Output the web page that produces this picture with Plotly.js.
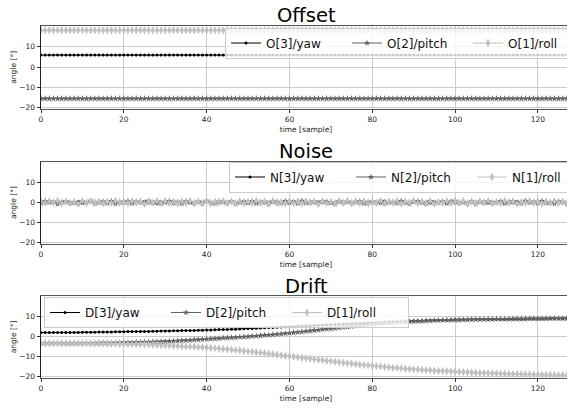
<!DOCTYPE html>
<html>
<head>
<meta charset="utf-8">
<script src="https://cdn.plot.ly/plotly-3.0.1.min.js"></script>
<style>html,body{margin:0;padding:0;overflow:hidden;background:#fff;}#chart{width:571px;height:408px;}</style>
</head>
<body>
<div id="chart"></div>
<script>
// sample index 0..127
const samples = [
0,1,2,3,4,5,6,7,8,9,10,11,12,13,14,15,16,17,18,19,
20,21,22,23,24,25,26,27,28,29,30,31,32,33,34,35,36,37,38,39,
40,41,42,43,44,45,46,47,48,49,50,51,52,53,54,55,56,57,58,59,
60,61,62,63,64,65,66,67,68,69,70,71,72,73,74,75,76,77,78,79,
80,81,82,83,84,85,86,87,88,89,90,91,92,93,94,95,96,97,98,99,
100,101,102,103,104,105,106,107,108,109,110,111,112,113,114,115,116,117,118,119,
120,121,122,123,124,125,126,127];

// ---- Offset ----
const offsetYaw = [
5.9,5.9,5.9,5.9,5.9,5.9,5.9,5.9,5.9,5.9,5.9,5.9,5.9,5.9,5.9,5.9,5.9,5.9,5.9,5.9,
5.9,5.9,5.9,5.9,5.9,5.9,5.9,5.9,5.9,5.9,5.9,5.9,5.9,5.9,5.9,5.9,5.9,5.9,5.9,5.9,
5.9,5.9,5.9,5.9,5.9,5.9,5.9,5.9,5.9,5.9,5.9,5.9,5.9,5.9,5.9,5.9,5.9,5.9,5.9,5.9,
5.9,5.9,5.9,5.9,5.9,5.9,5.9,5.9,5.9,5.9,5.9,5.9,5.9,5.9,5.9,5.9,5.9,5.9,5.9,5.9,
5.9,5.9,5.9,5.9,5.9,5.9,5.9,5.9,5.9,5.9,5.9,5.9,5.9,5.9,5.9,5.9,5.9,5.9,5.9,5.9,
5.9,5.9,5.9,5.9,5.9,5.9,5.9,5.9,5.9,5.9,5.9,5.9,5.9,5.9,5.9,5.9,5.9,5.9,5.9,5.9,
5.9,5.9,5.9,5.9,5.9,5.9,5.9,5.9];
const offsetPitch = [
-15.6,-15.6,-15.6,-15.6,-15.6,-15.6,-15.6,-15.6,-15.6,-15.6,-15.6,-15.6,-15.6,-15.6,-15.6,-15.6,-15.6,-15.6,-15.6,-15.6,
-15.6,-15.6,-15.6,-15.6,-15.6,-15.6,-15.6,-15.6,-15.6,-15.6,-15.6,-15.6,-15.6,-15.6,-15.6,-15.6,-15.6,-15.6,-15.6,-15.6,
-15.6,-15.6,-15.6,-15.6,-15.6,-15.6,-15.6,-15.6,-15.6,-15.6,-15.6,-15.6,-15.6,-15.6,-15.6,-15.6,-15.6,-15.6,-15.6,-15.6,
-15.6,-15.6,-15.6,-15.6,-15.6,-15.6,-15.6,-15.6,-15.6,-15.6,-15.6,-15.6,-15.6,-15.6,-15.6,-15.6,-15.6,-15.6,-15.6,-15.6,
-15.6,-15.6,-15.6,-15.6,-15.6,-15.6,-15.6,-15.6,-15.6,-15.6,-15.6,-15.6,-15.6,-15.6,-15.6,-15.6,-15.6,-15.6,-15.6,-15.6,
-15.6,-15.6,-15.6,-15.6,-15.6,-15.6,-15.6,-15.6,-15.6,-15.6,-15.6,-15.6,-15.6,-15.6,-15.6,-15.6,-15.6,-15.6,-15.6,-15.6,
-15.6,-15.6,-15.6,-15.6,-15.6,-15.6,-15.6,-15.6];
const offsetRoll = [
18.2,18.2,18.2,18.2,18.2,18.2,18.2,18.2,18.2,18.2,18.2,18.2,18.2,18.2,18.2,18.2,18.2,18.2,18.2,18.2,
18.2,18.2,18.2,18.2,18.2,18.2,18.2,18.2,18.2,18.2,18.2,18.2,18.2,18.2,18.2,18.2,18.2,18.2,18.2,18.2,
18.2,18.2,18.2,18.2,18.2,18.2,18.2,18.2,18.2,18.2,18.2,18.2,18.2,18.2,18.2,18.2,18.2,18.2,18.2,18.2,
18.2,18.2,18.2,18.2,18.2,18.2,18.2,18.2,18.2,18.2,18.2,18.2,18.2,18.2,18.2,18.2,18.2,18.2,18.2,18.2,
18.2,18.2,18.2,18.2,18.2,18.2,18.2,18.2,18.2,18.2,18.2,18.2,18.2,18.2,18.2,18.2,18.2,18.2,18.2,18.2,
18.2,18.2,18.2,18.2,18.2,18.2,18.2,18.2,18.2,18.2,18.2,18.2,18.2,18.2,18.2,18.2,18.2,18.2,18.2,18.2,
18.2,18.2,18.2,18.2,18.2,18.2,18.2,18.2];

// ---- Noise ----
const noiseYaw = [
0.3,-0.5,0.6,-0.2,0.1,-0.7,0.4,0.2,-0.3,0.5,
-0.6,0.1,0.3,-0.4,0.7,-0.1,-0.5,0.2,0.4,-0.3,
0.6,-0.6,0.0,0.3,-0.2,0.5,-0.4,0.1,-0.7,0.4,
0.2,-0.3,0.6,-0.5,0.1,0.3,-0.2,-0.6,0.5,0.0,
0.4,-0.3,0.2,-0.5,0.6,-0.1,0.3,-0.4,0.1,0.5,
-0.6,0.2,-0.2,0.4,-0.3,0.0,0.6,-0.5,0.3,-0.1,
-0.4,0.5,0.2,-0.6,0.1,0.4,-0.3,0.3,-0.2,0.6,
-0.5,0.0,0.2,-0.4,0.5,-0.1,0.3,-0.6,0.4,0.1,
-0.3,0.2,-0.5,0.6,-0.2,0.0,0.4,-0.4,0.3,-0.6,
0.5,0.1,-0.2,0.3,-0.5,0.4,-0.1,0.2,-0.3,0.6,
-0.4,0.0,0.5,-0.2,0.1,-0.6,0.3,0.4,-0.5,0.2,
-0.1,0.6,-0.3,0.1,-0.4,0.5,0.0,-0.2,0.3,-0.6,
0.4,-0.1,0.2,-0.5,0.6,-0.3,0.1,-0.2];
const noisePitch = [
-0.4,0.6,-0.1,0.3,-0.8,0.2,0.5,-0.3,0.1,-0.6,
0.4,-0.2,0.7,-0.5,0.0,0.3,-0.4,0.6,-0.7,0.2,
-0.1,0.5,-0.6,0.3,0.1,-0.3,0.7,-0.2,0.4,-0.5,
0.0,0.6,-0.4,0.2,-0.7,0.5,0.1,-0.3,0.3,-0.6,
0.7,-0.1,-0.5,0.4,0.2,-0.4,0.6,-0.7,0.0,0.3,
-0.2,0.5,-0.6,0.1,0.4,-0.8,0.3,0.2,-0.4,0.6,
-0.1,0.3,-0.5,0.7,-0.3,0.0,0.4,-0.6,0.5,-0.2,
0.1,-0.7,0.6,-0.1,0.3,-0.4,0.2,0.5,-0.5,0.0,
0.4,-0.3,0.7,-0.6,0.1,0.2,-0.4,0.6,-0.2,-0.7,
0.3,0.5,-0.1,-0.5,0.6,-0.3,0.0,0.4,-0.6,0.2,
0.7,-0.2,0.1,-0.4,0.5,-0.7,0.3,-0.1,0.6,-0.3,
0.0,0.4,-0.6,0.2,0.5,-0.2,-0.5,0.7,-0.1,0.3,
-0.4,0.6,-0.3,0.1,-0.7,0.4,0.2,-0.5];
const noiseRoll = [
0.5,-0.3,0.6,-0.2,0.7,-0.5,0.3,-0.4,0.2,-0.6,
0.5,-0.3,0.6,-0.1,0.4,-0.6,0.3,-0.4,0.7,-0.3,
0.1,-0.5,0.6,-0.2,0.4,-0.7,0.3,-0.2,0.5,-0.4,
0.6,-0.3,0.2,-0.6,0.4,-0.2,0.7,-0.5,0.3,-0.3,
0.5,-0.6,0.3,-0.1,0.6,-0.4,0.4,-0.3,0.6,-0.5,
0.2,-0.4,0.7,-0.2,0.4,-0.6,0.5,-0.4,0.1,-0.6,
0.6,-0.3,0.4,-0.5,0.6,-0.1,0.3,-0.7,0.5,-0.3,
0.2,-0.4,0.6,-0.2,0.7,-0.5,0.4,-0.3,0.5,-0.6,
0.1,-0.3,0.6,-0.4,0.4,-0.2,0.6,-0.6,0.3,-0.1,
0.7,-0.5,0.4,-0.3,0.5,-0.6,0.2,-0.4,0.6,-0.3,
0.4,-0.2,0.6,-0.7,0.3,-0.3,0.5,-0.1,0.6,-0.5,
0.2,-0.4,0.7,-0.3,0.4,-0.6,0.1,-0.3,0.6,-0.2,
0.4,-0.6,0.5,-0.3,0.6,-0.4,0.3,-0.5];

// ---- Drift ----
const driftYaw = [
2.0,2.0,2.0,2.0,2.0,2.1,2.1,2.1,2.1,2.1,
2.2,2.2,2.2,2.2,2.3,2.3,2.3,2.3,2.4,2.4,
2.4,2.5,2.5,2.5,2.6,2.6,2.6,2.7,2.7,2.8,
2.8,2.8,2.9,2.9,3.0,3.0,3.1,3.1,3.2,3.2,
3.3,3.3,3.4,3.5,3.5,3.6,3.7,3.7,3.8,3.9,
4.0,4.1,4.2,4.3,4.4,4.5,4.6,4.7,4.8,4.9,
5.0,5.1,5.2,5.3,5.4,5.5,5.6,5.7,5.8,5.9,
6.0,6.1,6.2,6.3,6.4,6.5,6.6,6.7,6.8,6.9,
7.0,7.1,7.2,7.3,7.4,7.5,7.6,7.7,7.7,7.8,
7.9,8.0,8.0,8.1,8.1,8.2,8.2,8.3,8.3,8.4,
8.4,8.4,8.5,8.5,8.5,8.6,8.6,8.6,8.6,8.7,
8.7,8.7,8.7,8.8,8.8,8.8,8.8,8.8,8.9,8.9,
8.9,8.9,8.9,8.9,9.0,9.0,9.0,9.0];
const driftPitch = [
-3.2,-3.2,-3.2,-3.2,-3.2,-3.2,-3.2,-3.2,-3.2,-3.2,
-3.2,-3.2,-3.2,-3.2,-3.1,-3.1,-3.1,-3.1,-3.0,-3.0,
-3.0,-2.9,-2.9,-2.8,-2.8,-2.7,-2.7,-2.6,-2.6,-2.5,
-2.4,-2.3,-2.2,-2.1,-2.0,-1.9,-1.8,-1.6,-1.5,-1.4,
-1.2,-1.1,-1.0,-0.9,-0.7,-0.6,-0.5,-0.4,-0.2,-0.1,
0.0,0.2,0.3,0.5,0.7,0.8,1.0,1.2,1.4,1.6,
1.8,2.0,2.2,2.4,2.7,2.9,3.1,3.3,3.6,3.8,
4.0,4.2,4.5,4.7,4.9,5.1,5.3,5.6,5.8,6.0,
6.2,6.4,6.6,6.7,6.9,7.0,7.2,7.3,7.4,7.5,
7.6,7.7,7.8,7.9,8.0,8.1,8.2,8.2,8.3,8.3,
8.4,8.4,8.5,8.5,8.6,8.6,8.6,8.7,8.7,8.7,
8.8,8.8,8.8,8.8,8.9,8.9,8.9,8.9,9.0,9.0,
9.0,9.0,9.0,9.1,9.1,9.1,9.1,9.1];
const driftRoll = [
-3.3,-3.3,-3.3,-3.3,-3.3,-3.3,-3.3,-3.4,-3.4,-3.4,
-3.4,-3.4,-3.5,-3.5,-3.5,-3.5,-3.6,-3.6,-3.6,-3.7,
-3.7,-3.8,-3.8,-3.9,-3.9,-4.0,-4.1,-4.1,-4.2,-4.3,
-4.4,-4.5,-4.6,-4.7,-4.8,-4.9,-5.0,-5.1,-5.3,-5.4,
-5.5,-5.7,-5.8,-6.0,-6.2,-6.4,-6.6,-6.8,-7.0,-7.2,
-7.4,-7.6,-7.9,-8.1,-8.3,-8.6,-8.8,-9.1,-9.3,-9.6,
-9.8,-10.1,-10.3,-10.6,-10.8,-11.1,-11.3,-11.6,-11.8,-12.1,
-12.3,-12.6,-12.8,-13.1,-13.3,-13.5,-13.8,-14.0,-14.2,-14.4,
-14.6,-14.8,-15.0,-15.2,-15.4,-15.6,-15.7,-15.9,-16.1,-16.2,
-16.4,-16.5,-16.7,-16.8,-16.9,-17.1,-17.2,-17.3,-17.4,-17.5,
-17.6,-17.7,-17.8,-17.9,-18.0,-18.1,-18.2,-18.2,-18.3,-18.4,
-18.5,-18.5,-18.6,-18.7,-18.7,-18.8,-18.8,-18.9,-18.9,-19.0,
-19.0,-19.1,-19.1,-19.1,-19.2,-19.2,-19.2,-19.3];

const panelTitles = ['Offset', 'Noise', 'Drift'];
const seriesNames = [
  ['O[3]/yaw', 'O[2]/pitch', 'O[1]/roll'],
  ['N[3]/yaw', 'N[2]/pitch', 'N[1]/roll'],
  ['D[3]/yaw', 'D[2]/pitch', 'D[1]/roll']
];
const panelData = [
  [offsetYaw, offsetPitch, offsetRoll],
  [noiseYaw, noisePitch, noiseRoll],
  [driftYaw, driftPitch, driftRoll]
];
const xTicks = [0, 20, 40, 60, 80, 100, 120];
const yTicks = [-20, -10, 0, 10];

// styles
const W = 571, H = 408;
const seriesStyle = [
  {color: '#000000', symbol: 'circle', size: 3, lw: 1},
  {color: '#626262', symbol: 'star', size: 5, lw: 1},
  {color: '#c0c0c0', symbol: 'diamond-tall', size: 6, lw: 1}
];
// panel boxes in px: [top, bottom]
const boxes = [[26, 108.7], [161.7, 243.5], [296.1, 377.7]];
const titleY = [16, 151, 286];
const legendPos = [[225, 27.5], [229, 161.5], [44, 297]];
const left = 41;

const traces = [];
const layout = {
  width: W, height: H,
  margin: {l: 0, r: 0, t: 0, b: 0, autoexpand: false},
  paper_bgcolor: '#fff', plot_bgcolor: '#fff',
  font: {family: 'DejaVu Sans', color: '#222'},
  showlegend: true,
  annotations: []
};

for (let p = 0; p < 3; p++) {
  const xa = p === 0 ? 'x' : 'x' + (p + 1);
  const ya = p === 0 ? 'y' : 'y' + (p + 1);
  const lg = p === 0 ? 'legend' : 'legend' + (p + 1);
  for (let s = 0; s < 3; s++) {
    const st = seriesStyle[s];
    traces.push({
      type: 'scatter', mode: 'lines+markers',
      x: samples, y: panelData[p][s],
      name: seriesNames[p][s],
      xaxis: xa, yaxis: ya, legend: lg,
      line: {color: st.color, width: st.lw},
      marker: {color: st.color, symbol: st.symbol, size: st.size, line: {width: 0}}
    });
  }
  const [top, bot] = boxes[p];
  const axKey = p === 0 ? '' : String(p + 1);
  layout['xaxis' + axKey] = {
    domain: [left / W, 1],
    anchor: ya,
    range: [0, 128],
    tickvals: xTicks,
    ticks: 'outside', ticklen: 3.5, tickwidth: 0.8, tickcolor: '#000',
    tickfont: {size: 7.5, color: '#222'},
    showgrid: true, gridcolor: '#cccccc', gridwidth: 1,
    zeroline: false,
    showline: true, linecolor: '#555', linewidth: 1, mirror: true,
    title: {text: 'time [sample]', font: {size: 7.5, color: '#222'}, standoff: 3},
    automargin: false
  };
  layout['yaxis' + axKey] = {
    domain: [1 - bot / H, 1 - top / H],
    anchor: xa,
    range: [-20.6, 20.3],
    tickvals: yTicks,
    ticktext: ['\u221220', '\u221210', '0', '10'],
    ticks: 'outside', ticklen: 3.5, tickwidth: 0.8, tickcolor: '#000',
    tickfont: {size: 7.5, color: '#222'},
    showgrid: true, gridcolor: '#cccccc', gridwidth: 1,
    zeroline: false,
    showline: true, linecolor: '#222', linewidth: 1,
    title: {text: 'angle [°]', font: {size: 7.5, color: '#222'}, standoff: 1},
    automargin: false
  };
  const [lx, ly] = legendPos[p];
  layout[lg] = {
    orientation: 'h',
    x: lx / W, y: 1 - ly / H, xanchor: 'left', yanchor: 'top',
    xref: 'paper', yref: 'paper',
    bgcolor: 'rgba(255,255,255,0.8)', bordercolor: '#cccccc', borderwidth: 1,
    font: {size: 12, color: '#111', family: 'DejaVu Sans'},
    entrywidth: 76, entrywidthmode: 'pixels',
    traceorder: 'normal'
  };
  layout.annotations.push({
    text: panelTitles[p], xref: 'paper', yref: 'paper',
    x: (left + W) / 2 / W, y: 1 - titleY[p] / H,
    xanchor: 'center', yanchor: 'middle', showarrow: false,
    font: {size: 19.5, color: '#000', family: 'DejaVu Sans'}
  });
}

Plotly.newPlot('chart', traces, layout, {displayModeBar: false, staticPlot: true});
</script>
</body>
</html>
